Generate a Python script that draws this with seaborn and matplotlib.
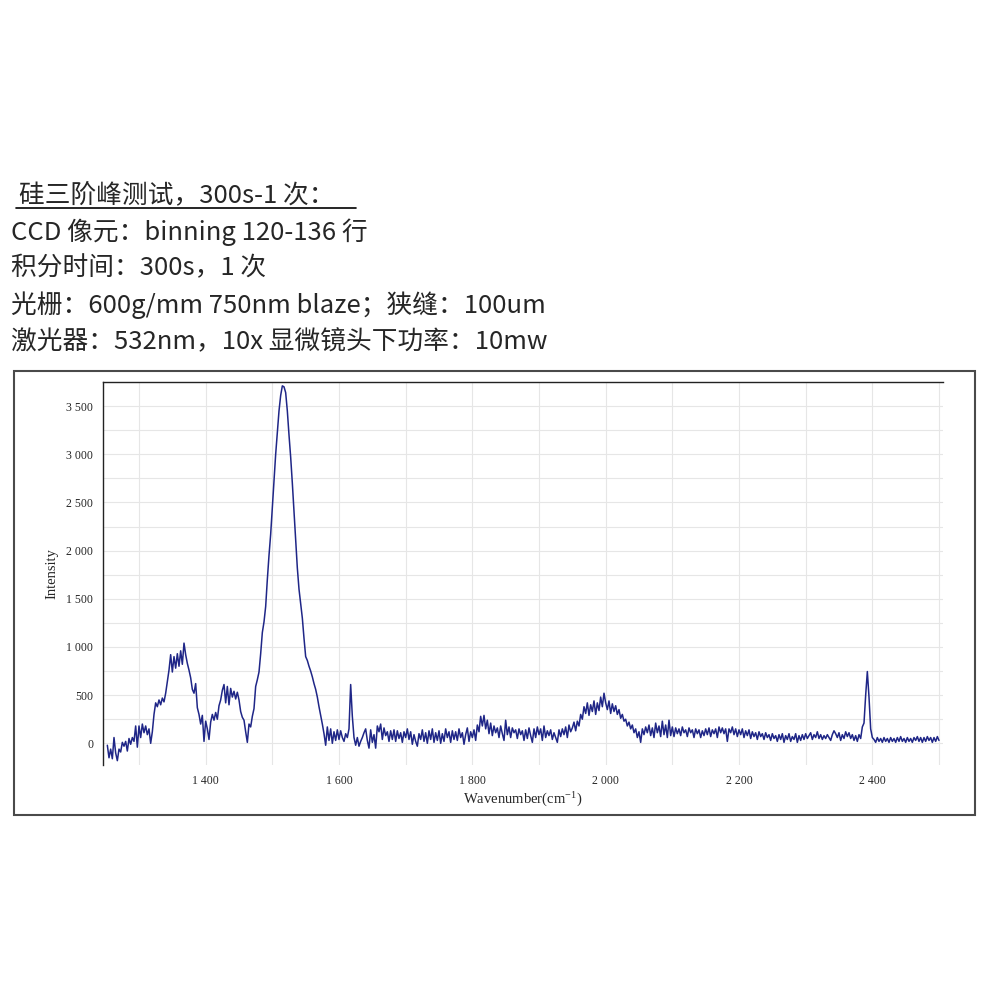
import numpy as np
import pandas as pd
import matplotlib
matplotlib.use("Agg")
import matplotlib.pyplot as plt
from matplotlib.ticker import FixedLocator, FuncFormatter, MultipleLocator
from matplotlib.lines import Line2D
from matplotlib.patches import Rectangle
import seaborn as sns

# Spectrum, every 2.5 cm-1 starting at 1252.5
wn_start = 1252.5
wn_step = 2.5

# 1252.5 - 1500
band_low = [-20, -150, -60, -160, 60, -100, -180, -60, -90, 10, -30, 20, -80, 50, -10, 60, 20, 180, -40, 180,
            60, 200, 110, 180, 90, 150, 0, 120, 300, 420, 380, 450, 400, 470, 430, 520, 640, 760, 920, 740,
            900, 780, 930, 800, 960, 820, 1040, 920, 830, 760, 680, 560, 520, 620, 370, 300, 200, 290, 20, 230,
            150, 40, 220, 300, 240, 320, 250, 390, 450, 550, 610, 420, 590, 400, 570, 480, 540, 460, 530, 450,
            330, 270, 240, 120, 10, 200, 170, 280, 360, 590, 660, 740, 930, 1150, 1260, 1420, 1700, 1950, 2170, 2450]
# 1502.5 - 1750
band_peak = [2740, 3000, 3230, 3450, 3610, 3710, 3700, 3640, 3450, 3200, 2970, 2700, 2400, 2100, 1820, 1600, 1450, 1300, 1090, 900,
             860, 800, 750, 690, 620, 560, 480, 380, 290, 200, 100, -20, 170, 30, 150, 0, 120, 30, 140, 40,
             130, 60, 20, 100, 60, 150, 610, 280, 60, -20, 60, -30, 20, 60, 110, 150, 30, -50, 140, 10,
             90, -50, 180, 120, 200, 40, 160, 80, 120, 20, 130, 40, 140, 20, 130, 50, 110, 10, 120, 60,
             150, 40, 120, -10, 90, 20, -30, 100, 40, 140, 20, 110, 0, 130, 40, 150, 10, 110, 30, 130]
# 1752.5 - 2000
band_mid = [0, 100, 20, 150, 60, 120, 10, 130, 40, 120, 30, 150, 60, 110, -10, 90, 160, 20, 120, 60,
            140, 30, 190, 120, 280, 180, 290, 150, 240, 100, 210, 80, 180, 110, 160, 60, 180, 100, 30, 240,
            90, 170, 60, 160, 110, 140, 50, 150, 90, 130, 30, 140, 50, 160, 80, 10, 150, 60, 170, 90,
            150, 30, 180, 60, 130, 80, 140, 40, 110, 60, 10, 140, 70, 150, 90, 170, 60, 190, 120, 160,
            220, 130, 230, 180, 300, 250, 380, 310, 420, 290, 400, 330, 440, 300, 420, 340, 480, 380, 520, 420]
# 2002.5 - 2250
band_high = [350, 440, 310, 410, 330, 390, 300, 350, 260, 300, 230, 250, 180, 220, 150, 190, 110, 150, 60, 120,
             10, 150, 90, 170, 110, 190, 80, 160, 60, 210, 110, 180, 70, 230, 90, 190, 60, 240, 80, 170,
             70, 160, 100, 150, 80, 170, 110, 140, 70, 160, 110, 140, 60, 150, 100, 140, 60, 130, 80, 150,
             90, 160, 70, 140, 100, 150, 60, 170, 110, 160, 100, 150, 20, 150, 110, 170, 90, 150, 70, 140,
             90, 150, 60, 130, 80, 140, 50, 120, 70, 110, 40, 120, 70, 100, 40, 110, 60, 90, 30, 100]
# 2252.5 - 2500
band_tail = [50, 80, 20, 90, 40, 100, 10, 80, 40, 100, 20, 70, 40, 100, 10, 80, 30, 90, 40, 100,
             50, 80, 110, 40, 90, 60, 120, 50, 90, 40, 80, 50, 90, 60, 30, 90, 130, 100, 60, 110,
             30, 90, 50, 120, 70, 110, 50, 90, 30, 80, 20, 90, 50, 170, 210, 500, 745, 480, 150, 60,
             40, 10, 60, 20, 50, 10, 60, 20, 50, 10, 60, 20, 50, 10, 60, 20, 70, 20, 50, 10,
             60, 20, 50, 10, 60, 30, 70, 20, 60, 10, 60, 20, 70, 30, 60, 10, 60, 20, 70, 30]

x_major = [1400, 1600, 1800, 2000, 2200, 2400]
x_minor = [1300, 1500, 1700, 1900, 2100, 2300, 2500]
y_major = [0, 500, 1000, 1500, 2000, 2500, 3000, 3500]

header_title = "硅三阶峰测试，300s-1 次："
header_lines = [
    "CCD 像元：binning 120-136 行",
    "积分时间：300s，1 次",
    "光栅：600g/mm 750nm blaze；狭缝：100um",
    "激光器：532nm，10x 显微镜头下功率：10mw",
]

intensity = band_low + band_peak + band_mid + band_high + band_tail
wavenumber = wn_start + wn_step * np.arange(len(intensity))
df = pd.DataFrame({"Wavenumber": wavenumber, "Intensity": intensity})

sns.set_style("white")
plt.rcParams["font.family"] = ["Noto Sans CJK SC", "DejaVu Sans"]
plt.rcParams["mathtext.fontset"] = "stix"

fig = plt.figure(figsize=(10, 10), dpi=100)
fig.patch.set_facecolor("white")

# header text block
cjk = ["Noto Sans CJK SC", "DejaVu Sans"]
fig.text(0.019, 1 - 195 / 1000, header_title, fontsize=18.5, family=cjk, va="center", ha="left")
fig.add_artist(Line2D([0.016, 0.356], [1 - 208 / 1000] * 2, color="black", lw=1.2))
for i, line in enumerate(header_lines):
    fig.text(0.011, 1 - (232 + 36.7 * i) / 1000, line, fontsize=18.5, family=cjk,
             va="center", ha="left")

# frame around the chart
fig.add_artist(Rectangle((0.014, 0.185), 0.961, 0.444, fill=False,
                         edgecolor="#4a4a4a", lw=1.5, transform=fig.transFigure))

ax = fig.add_axes([0.103, 0.235, 0.84, 0.383])
sns.lineplot(data=df, x="Wavenumber", y="Intensity", ax=ax, color="#1f2687", lw=1.1)

ax.set_xlim(1246, 2506)
ax.set_ylim(-225, 3750)
ax.xaxis.set_major_locator(FixedLocator(x_major))
ax.xaxis.set_minor_locator(FixedLocator(x_minor))
ax.yaxis.set_major_locator(FixedLocator(y_major))
ax.yaxis.set_minor_locator(MultipleLocator(250))
fmt = FuncFormatter(lambda v, p: f"{v:,.0f}".replace(",", " "))
ax.xaxis.set_major_formatter(fmt)
ax.yaxis.set_major_formatter(fmt)

ax.grid(which="both", color="#e6e6e6", lw=0.8)
ax.set_axisbelow(True)
ax.tick_params(axis="both", which="major", direction="out", length=4, width=0.8,
               color="#222222", pad=3, labelsize=8.5)
ax.tick_params(axis="x", which="minor", direction="out", length=4, width=0.8, color="#222222")
ax.tick_params(axis="y", which="minor", length=0)
for lab in ax.get_xticklabels() + ax.get_yticklabels():
    lab.set_family("Liberation Serif")

ax.spines["right"].set_visible(False)
ax.spines["bottom"].set_visible(False)
ax.spines["top"].set_color("#222222")
ax.spines["left"].set_color("#222222")
ax.spines["top"].set_linewidth(1.0)
ax.spines["left"].set_linewidth(1.0)

ax.set_xlabel(r"Wavenumber(cm$^{\mathregular{-1}}$)", family="Liberation Serif",
              fontsize=10.5, labelpad=2)
ax.set_ylabel("Intensity", family="Liberation Serif", fontsize=10.5, labelpad=6)

fig.savefig("out.png", dpi=100, facecolor="white")
